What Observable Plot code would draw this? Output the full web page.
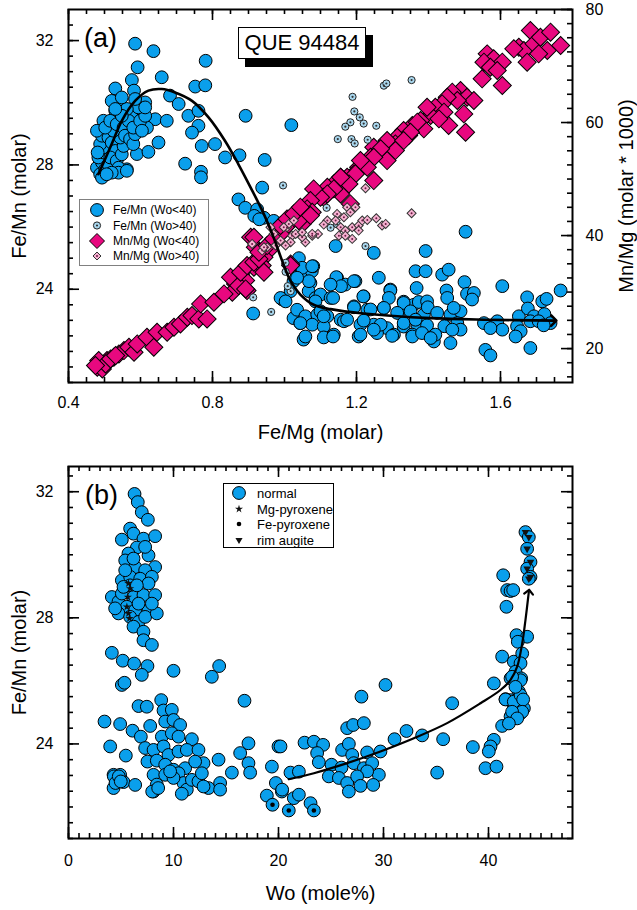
<!DOCTYPE html>
<html><head><meta charset="utf-8">
<script src="https://cdn.jsdelivr.net/npm/d3@7"></script>
<script src="https://cdn.jsdelivr.net/npm/@observablehq/plot@0.6"></script>
<style>
body{margin:0;background:#fff;font-family:"Liberation Sans",Arial,sans-serif;}
#wrap{position:relative;width:637px;height:910px;overflow:hidden;background:#fff;}
#wrap > svg{display:block;}
.ov{position:absolute;box-sizing:border-box;background:#fff;}
</style></head><body><div id="wrap"></div>
<script>
// ---------- Panel (a) data: [Fe/Mg, Fe/Mn] ----------
const feMnLowWo = [
[0.585,31.9],[0.636,31.66],[0.781,31.35],[0.592,31.14],[0.576,30.73],[0.659,30.82],[0.752,30.52],[0.78,30.56],[0.53,30.46],[0.582,30.39],[0.682,30.23],[0.706,29.96],[0.539,30.06],[0.52,30.06],[0.613,30.01],[0.604,29.8],[0.53,29.74],[0.733,29.58],[0.761,29.74],[0.641,29.47],[0.673,29.42],[0.618,29.2],[0.576,29.53],[0.497,29.42],[0.567,29.1],[0.761,29.26],[0.743,29.04],[0.65,28.72],[0.77,28.61],[0.807,28.67],[0.59,28.35],[0.622,28.42],[0.562,27.86],[0.724,28.04],[0.768,27.78],[0.768,27.6],[0.835,28.24],[0.875,28.31],[0.872,26.89],[0.891,26.62],[0.892,29.58],
[0.479,27.91],[0.488,27.7],[0.493,28.08],[0.483,28.24],[0.502,27.86],[0.511,28.02],[0.497,28.4],[0.506,28.56],[0.488,28.67],[0.493,28.94],[0.479,29.1],[0.511,28.88],[0.52,28.72],[0.53,28.45],[0.516,28.24],[0.534,28.13],[0.539,27.91],[0.548,28.34],[0.553,28.61],[0.544,28.88],[0.525,29.1],[0.502,29.2],[0.516,29.42],[0.534,29.31],[0.553,29.2],[0.557,28.94],[0.571,28.83],[0.58,28.67],[0.585,28.99],[0.567,29.42],[0.58,29.2],[0.599,29.42],[0.604,29.1],[0.613,29.58],[0.594,29.85],[0.613,29.85],[0.562,29.8],[0.548,29.58],[0.539,27.75],[0.562,27.81],[0.52,27.75],[0.493,27.59],[0.506,27.7],[0.481,28.4],[0.53,29.8],[0.548,30.17],[0.585,30.12],
[1.019,29.28],[0.945,28.16],[0.938,27.27],[0.924,26.57],[0.943,26.3],[0.97,26.2],[0.916,26.36],[0.93,26.25],[0.935,24.69],[0.913,23.22],[0.994,23.67],[1.053,22.38],[1.025,23.07],[1.044,22.91],[1.025,24.8],[1.025,24.26],[1.044,24.47],[1.072,24.2],[1.067,23.94],[1.086,23.72],[1.076,24.58],[1.08,24.74],
[1.142,25.39],[1.248,25.17],[1.392,25.23],[1.04,25.0],[1.049,24.69],[1.077,24.74],[1.068,24.26],[1.035,24.37],[1.017,23.94],[0.989,23.72],[1.003,23.61],[1.035,23.34],[1.1,23.83],[1.146,24.37],[1.169,24.15],[1.197,24.26],[1.262,24.37],[1.364,24.58],[1.392,24.58],[1.294,23.99],[1.331,23.6],[1.359,23.5],[1.22,23.77],[1.193,23.45],[1.128,23.72],[1.086,23.61],[1.058,23.13],[1.091,23.18],[1.119,23.13],[1.156,23.02],[1.23,23.34],[1.276,23.4],[1.318,23.24],[1.387,23.18],[1.077,22.86],[1.109,22.8],[1.165,22.97],[1.211,22.86],[1.248,22.86],[1.285,22.75],[1.331,22.8],[1.369,22.86],[1.044,22.91],[1.058,22.48],[1.137,22.54],[1.206,22.48],[1.257,22.59],[1.304,22.54],[1.355,22.54],
[1.503,25.85],[1.438,24.47],[1.456,24.63],[1.144,24.39],[1.193,24.26],[1.157,24.1],[1.128,24.15],[1.5,24.23],[1.605,24.1],[1.767,23.96],[1.294,23.96],[1.29,23.72],[1.367,24.04],[1.45,23.96],[1.452,23.72],[1.507,23.85],[1.526,23.88],[1.521,23.67],[1.219,23.77],[1.135,23.72],[1.674,23.74],[1.716,23.61],[1.728,23.69],[1.331,23.56],[1.373,23.59],[1.396,23.61],[1.398,23.42],[1.276,23.4],[1.313,23.24],[1.35,23.29],[1.193,23.42],[1.239,23.35],[1.1,23.29],[1.109,23.13],[1.424,23.24],[1.461,23.18],[1.489,23.29],[1.47,23.4],[1.651,23.13],[1.676,23.38],[1.693,23.13],[1.722,23.2],[1.174,23.02],[1.22,22.99],[1.267,22.86],[1.248,22.7],[1.331,22.91],[1.364,23.02],[1.396,22.84],[1.444,22.81],[1.48,22.91],[1.489,22.7],[1.466,22.7],[1.554,22.91],[1.591,22.97],[1.605,22.7],[1.572,22.75],[1.646,22.81],[1.656,22.65],[1.642,22.48],[1.683,22.97],[1.706,22.97],[1.739,22.91],[1.72,22.84],[1.211,22.54],[1.299,22.5],[1.355,22.48],[1.382,22.59],[1.415,22.32],[1.419,22.54],[1.461,22.27],[1.406,22.43],[1.109,22.45],[1.135,22.48],[1.558,22.05],[1.572,21.87],[1.683,22.11]
];
const feMnHighWo = [
[1.353,30.73],[1.276,30.55],[1.283,30.62],[1.189,30.19],[1.194,29.72],[1.209,29.53],[1.22,29.33],[1.183,29.37],[1.169,29.23],[1.255,29.26],[1.148,28.83],[1.186,28.83],[1.195,28.69],[1.231,28.81],[0.996,27.34],[1.117,26.62],[1.146,26.09],[1.128,25.98],[1.225,25.39],[1.003,24.56],[1.017,23.94],[1.009,24.1],[0.913,23.74],[0.963,23.27],[1.003,24.85]
];
// [Fe/Mg, Mn/Mg (molar*1000)]
const mnMgLowWo = [
[1.683,76.28],[1.651,73.33],[1.665,72.74],[1.693,73.92],[1.711,75.1],[1.739,75.99],[1.767,73.63],[1.73,72.74],[1.706,72.15],[1.674,70.68],[1.637,73.04],
[1.563,72.15],[1.581,71.27],[1.605,70.68],[1.554,70.68],[1.572,69.79],[1.549,67.73],[1.591,69.2],[1.605,66.55],
[1.489,65.66],[1.507,64.48],[1.526,63.89],[1.466,65.37],[1.48,63.89],[1.452,64.48],
[1.438,63.3],[1.419,62.71],[1.443,61.83],[1.406,61.24],[1.456,59.47],[1.498,61.53],[1.503,58.29],[1.429,60.65],[1.378,60.35],[1.355,59.47],[1.387,58.88],[1.331,58.58],[1.345,57.7],[1.313,57.4],[1.308,56.22],[1.285,56.81],[1.267,55.34],[1.248,55.63],[1.281,53.86],[1.239,53.86],[1.22,52.68],[1.206,52.09],[1.248,49.73],[1.193,50.91],[1.174,50.32],[1.156,50.32],[1.137,49.14],[1.119,48.55],[1.156,47.37],[1.109,46.78],
[1.396,62.71],[1.369,60.06],[1.35,58.29],[1.331,56.81],[1.308,55.04],[1.285,53.27],[1.267,55.34],[1.248,53.86],[1.23,52.09],[1.211,53.27],[1.197,50.91],[1.179,49.14],[1.156,50.32],[1.137,48.26],[1.119,47.37],[1.1,46.78],[1.081,48.26],[1.072,46.19],[1.063,44.72],[1.044,43.83],[1.077,44.13],[1.049,42.06],[1.021,42.65],[1.003,41.47],[0.989,40.29],[0.97,38.82],[0.956,37.34],[0.943,36.16],[0.929,35.28],[0.915,34.39],[0.906,39.7],[0.919,37.93],[0.938,34.69],[0.878,33.21],[0.892,32.03],[0.864,31.44],[0.896,30.26],[0.855,29.97],[1.017,34.98],[1.04,42.65],[1.183,45.6],
[0.489,17.29],[0.48,16.7],[0.498,17.0],[0.507,17.88],[0.526,18.47],[0.54,19.06],[0.554,19.65],[0.568,20.24],[0.582,19.35],[0.591,20.83],[0.618,22.01],[0.637,20.24],[0.646,22.89],[0.674,22.89],[0.693,23.78],[0.711,24.37],[0.73,25.55],[0.743,25.84],[0.762,25.25],[0.767,27.91],[0.785,25.25],[0.804,28.2],[0.832,29.68],[0.85,32.63],[0.873,31.15],[0.892,30.56],[0.878,33.51],[0.896,34.69],[0.915,35.28],[0.929,35.87],[0.943,33.51],[0.915,39.71],[0.929,37.05],[0.952,38.23],[0.97,39.41],[0.989,41.77],[1.007,42.95],[1.017,34.69],[1.026,43.84],[1.044,45.02],[1.072,43.54],
[0.484,17.88],[0.494,16.4],[0.503,17.29],[0.475,16.99],[0.517,18.17],[0.531,18.76]
];
const mnMgHighWo = [
[1.353,43.95],[1.225,48.37],[1.174,45.01],[1.183,44.13],[1.197,45.01],[1.146,43.83],[1.119,42.65],[1.109,41.94],[1.142,42.65],[1.165,43.24],[1.156,41.47],[1.169,40.88],[1.188,41.47],[1.206,41.77],[1.216,42.65],[1.23,42.77],[1.255,43.06],[1.271,41.77],[1.281,42.06],[1.151,39.98],[1.169,39.98],[1.188,39.41],[1.206,40.88],[1.093,40.29],[1.077,39.98],[1.058,38.82],[1.049,39.7],[1.021,39.98],[1.017,38.82],[1.003,38.23],[1.007,41.47],[1.012,42.06],[0.989,39.11],[0.975,38.23],[0.952,37.93],[0.938,37.34],[0.91,38.52],[0.961,41.47],[1.031,40.29],[0.943,37.94],[0.97,40.3],[0.998,41.48],[1.049,40.59],[1.077,40.3],[1.026,42.66]
];
const trendA = [
[0.483,27.7],[0.52,28.67],[0.548,29.42],[0.585,30.06],[0.622,30.39],[0.659,30.44],[0.696,30.33],[0.743,30.06],[0.789,29.53],[0.835,28.77],[0.872,28.02],[0.906,27.27],[0.943,26.41],[0.97,25.66],[0.994,24.9],[1.017,24.26],[1.044,23.83],[1.081,23.5],[1.128,23.36],[1.22,23.22],[1.406,23.07],[1.563,23.02],[1.748,22.99]
];
const xTickLabelsA = ["0.4","0.8","1.2","1.6"];
const yTickLabelsA = ["24","28","32"];
const yRightTickLabelsA = ["20","40","60","80"];

// ---------- Panel (b) data: [Wo, Fe/Mn] ----------
const normalB = [
[6.29,31.93],[6.6,31.67],[6.98,31.35],[7.56,31.11],[5.87,30.83],[6.19,30.67],[5.08,30.48],[7.14,30.51],[8.25,30.59],[6.51,30.23],[5.71,30.04],[7.62,29.98],[5.4,29.82],[8.25,29.61],[6.35,29.61],[7.3,29.51],[5.08,29.19],[5.87,29.3],[6.83,29.24],[7.94,29.3],[4.13,28.66],[4.76,28.51],[5.08,28.77],[5.87,29.03],[6.19,28.66],[7.14,28.72],[8.25,28.72],[5.56,28.35],[6.35,28.24],[7.62,28.24],[4.76,28.14],[5.87,28.03],[6.67,27.87],[7.3,28.03],[8.41,28.14],[6.19,27.72],[7.14,27.56],[7.94,28.45],[6.67,28.45],[5.24,28.98],[7.62,29.09],[6.19,29.88],[7.3,30.25],[5.4,29.51],[6.51,29.03],[4.44,28.3],[7.14,27.29],[7.94,27.14],
[4.13,26.89],[5.17,26.64],[6.25,26.55],[7.52,26.47],[6.98,26.19],[5.08,25.87],[5.33,25.94],[10.0,26.32],[13.65,26.13],[14.35,26.47],[16.76,25.37],[8.83,25.39],[6.67,25.2],[7.46,25.18],[3.43,24.71],[4.92,24.63],[6.1,24.42],[6.89,24.23],[7.78,24.57],[9.05,25.06],[9.84,25.08],[9.21,24.71],[10.0,24.76],[10.63,24.6],[8.89,24.23],[9.84,24.34],[10.48,24.23],[11.75,24.15],[3.97,23.92],[5.46,23.63],[7.3,23.87],[8.1,23.81],[9.05,23.92],[9.52,23.65],[10.48,23.76],[11.27,23.81],[12.38,23.81],[12.86,23.39],[7.52,23.44],[8.41,23.47],[9.21,23.34],[10.0,23.18],[11.11,23.23],[12.06,23.44],[14.29,23.5],[16.35,23.71],[17.14,24.02],[17.14,23.39],[17.3,23.09],[15.56,23.09],[4.29,23.02],[4.92,23.02],[5.24,22.79],[4.29,22.6],[6.35,22.7],[8.1,23.02],[8.41,22.71],[8.1,22.49],[9.21,23.02],[10.48,23.07],[10.95,22.76],[11.27,22.55],[10.79,22.42],[11.75,22.86],[12.38,22.81],[12.7,23.07],[13.33,22.6],[14.44,22.76],[14.44,22.55],[12.86,22.65],[10.0,22.92],[9.68,23.13],[4.32,22.97],[4.48,22.76],[4.79,22.97],[4.98,22.81],[7.97,22.49],[8.54,22.6],
[19.37,23.28],[20.0,23.92],[19.75,22.76],[20.32,22.49],[18.89,22.36],
[41.4,29.35],[41.78,28.88],[42.1,28.85],[42.35,28.88],[41.71,28.35],[42.67,27.45],[43.68,27.4],[42.79,27.24],[41.3,26.77],[42.41,26.61],[43.21,26.87],[43.05,26.56],[42.57,26.29],[42.1,26.08],[43.11,26.08],[40.51,25.92],[42.89,25.66],[43.21,25.39],[42.1,25.39],[41.62,25.42],[42.41,25.18],[43.37,25.13],[43.05,24.97],[42.1,24.87],[41.3,24.57],[40.51,24.13],[40.19,23.92],[40.03,23.76],[39.71,23.23],[40.76,23.28],[38.51,23.9],[36.54,25.29],[35.11,23.09],[35.68,24.15],[33.68,24.27],[32.19,24.41],[31.05,24.15],[30.19,25.87],[27.9,25.5],[26.54,24.5],[27.11,24.6],[28.13,24.66],[22.48,24.04],[23.37,24.07],[24.25,23.97],[23.68,23.71],[23.84,23.42],[26.06,23.81],[26.7,24.0],[27.02,23.65],[28.44,23.73],[29.71,23.76],[25.05,23.34],[26.0,23.25],[27.17,23.39],[28.13,23.23],[28.92,23.39],[29.56,23.02],[28.44,23.13],[24.79,22.97],[25.75,22.92],[26.54,22.76],[27.49,22.97],[26.7,22.49],[27.81,22.67],[29.02,22.7],[21.14,23.09],[21.94,23.12],[20.35,22.55],[21.46,22.28],[21.94,22.39],[23.05,22.12],[20.19,23.92],
[41.62,25.41],[42.41,25.34],[43.05,25.55],[43.3,25.41],[43.21,25.02],[42.25,25.02],[42.73,24.81],[41.94,24.65],[43.05,26.02],[42.25,26.13],[42.57,25.81]
];
const mgPyroxeneB = [[5.71,29.09],[5.87,28.93],[5.65,28.66],[5.56,28.35],[5.71,28.14],[5.81,27.98]];
const fePyroxeneB = [[19.43,22.07],[20.98,21.89],[23.37,21.89]];
const rimAugiteB = [[43.52,30.72],[43.84,30.56],[43.68,30.19],[44.0,29.77],[43.68,29.56],[44.0,29.3],[43.84,29.24]];
const trendB = [[20.98,22.88],[23.37,23.07],[26.54,23.39],[29.71,23.76],[32.89,24.18],[36.06,24.66],[39.24,25.29],[41.14,25.71],[42.1,26.03],[42.73,26.45],[43.21,27.19],[43.52,27.93],[43.84,28.82]];
const xTickLabelsB = ["0","10","20","30","40"];
const yTickLabelsB = ["24","28","32"];

// ---------- styling ----------
const BLUE = "#0a9fec", PINK = "#e8087f", LBLUE = "#a9d7ee", LPINK = "#f6b2d1";
const FONT = "'Liberation Sans', Arial, sans-serif";
const mnToLeft = v => 21 + (v - 14) * 12 / 66;   // right-axis (Mn/Mg) scale mapped onto left y scale

function frameTicks(fw, fh, xMaj, xMin, yMaj, yMin, yRMaj, yRMin) {
  const s = {stroke: "black", strokeWidth: 1.6};
  return [
    Plot.tickX(xMin, {x: d => d, insetTop: fh - 5, ...s}),
    Plot.tickX(xMaj, {x: d => d, insetTop: fh - 11, ...s}),
    Plot.tickX(xMin, {x: d => d, insetBottom: fh - 5, ...s}),
    Plot.tickX(xMaj, {x: d => d, insetBottom: fh - 11, ...s}),
    Plot.tickY(yMin, {y: d => d, insetRight: fw - 5, ...s}),
    Plot.tickY(yMaj, {y: d => d, insetRight: fw - 11, ...s}),
    Plot.tickY(yRMin, {y: d => d, insetLeft: fw - 5, ...s}),
    Plot.tickY(yRMaj, {y: d => d, insetLeft: fw - 11, ...s})
  ];
}
const T = {lineAnchor: "middle"};

const wrap = document.getElementById("wrap");

// ---------- Panel (a) ----------
const fwA = 637 - 68 - 65, fhA = 450 - 9 - 68;
const plotA = Plot.plot({
  width: 637, height: 450,
  marginTop: 9, marginRight: 65, marginBottom: 68, marginLeft: 68,
  x: {domain: [0.4, 1.8], axis: null},
  y: {domain: [21, 33], axis: null},
  style: {fontFamily: FONT, fontSize: "16px", background: "white", color: "black", overflow: "visible"},
  marks: [
    Plot.dot(feMnLowWo, {x: d => d[0], y: d => d[1], r: 6.4, fill: BLUE, stroke: "black", strokeWidth: 1}),
    Plot.dot(mnMgLowWo, {x: d => d[0], y: d => mnToLeft(d[1]), symbol: "square", rotate: 45, r: 7.2, fill: PINK, stroke: "black", strokeWidth: 1}),
    Plot.dot(feMnHighWo, {x: d => d[0], y: d => d[1], r: 3.6, fill: LBLUE, stroke: "#222", strokeWidth: 1}),
    Plot.dot(feMnHighWo, {x: d => d[0], y: d => d[1], r: 1.1, fill: "#333"}),
    Plot.dot(mnMgHighWo, {x: d => d[0], y: d => mnToLeft(d[1]), symbol: "square", rotate: 45, r: 3.6, fill: LPINK, stroke: "#333", strokeWidth: 1}),
    Plot.dot(mnMgHighWo, {x: d => d[0], y: d => mnToLeft(d[1]), r: 1, fill: "#6a1a44"}),
    Plot.line(trendA, {x: d => d[0], y: d => d[1], curve: "catmull-rom", stroke: "black", strokeWidth: 2.6, markerEnd: "arrow"}),
    ...frameTicks(fwA, fhA,
      xTickLabelsA.map(Number), d3.range(8, 36).map(i => i / 20),
      yTickLabelsA.map(Number), d3.range(42, 66).map(i => i / 2),
      yRightTickLabelsA.map(v => mnToLeft(+v)), d3.range(6, 33).map(i => mnToLeft(i * 2.5))),
    Plot.frame({stroke: "black", strokeWidth: 2}),
    Plot.text(xTickLabelsA, {...T, x: d => +d, text: d => d, frameAnchor: "bottom", dy: 20, textAnchor: "middle", fontSize: 16}),
    Plot.text(yTickLabelsA, {...T, y: d => +d, text: d => d, frameAnchor: "left", dx: -15, textAnchor: "end", fontSize: 16}),
    Plot.text(yRightTickLabelsA, {...T, y: d => mnToLeft(+d), text: d => d, frameAnchor: "right", dx: 13, textAnchor: "start", fontSize: 16}),
    Plot.text(["Fe/Mg (molar)"], {...T, frameAnchor: "bottom", dy: 50, textAnchor: "middle", fontSize: 20}),
    Plot.text(["Fe/Mn (molar)"], {...T, frameAnchor: "left", dx: -49, rotate: -90, textAnchor: "middle", fontSize: 20}),
    Plot.text(["Mn/Mg (molar * 1000)"], {...T, frameAnchor: "right", dx: 54, rotate: -90, textAnchor: "middle", fontSize: 20}),
    Plot.text(["(a)"], {...T, frameAnchor: "top-left", dx: 32, dy: 29, textAnchor: "middle", fontSize: 27})
  ]
});
wrap.appendChild(plotA);

// ---------- Panel (b) ----------
const fwB = 637 - 68 - 65, fhB = 460 - 16 - 72;
const xyB = {x: d => d[0], y: d => d[1]};
const bigDot = {r: 6.4, fill: BLUE, stroke: "black", strokeWidth: 1};
const plotB = Plot.plot({
  width: 637, height: 460,
  marginTop: 16, marginRight: 65, marginBottom: 72, marginLeft: 68,
  x: {domain: [0, 48], axis: null},
  y: {domain: [21, 32.8], axis: null},
  style: {fontFamily: FONT, fontSize: "16px", background: "white", color: "black", overflow: "visible"},
  marks: [
    Plot.dot(normalB, {...xyB, ...bigDot}),
    Plot.dot(fePyroxeneB, {...xyB, ...bigDot}),
    Plot.dot(rimAugiteB, {...xyB, ...bigDot}),
    Plot.dot(mgPyroxeneB, {...xyB, symbol: "star", r: 2.6, fill: "#111"}),
    Plot.dot(fePyroxeneB, {...xyB, r: 2.3, fill: "black"}),
    Plot.dot(rimAugiteB, {...xyB, symbol: "triangle", rotate: 180, r: 2.8, fill: "#111"}),
    Plot.line(trendB, {...xyB, curve: "catmull-rom", stroke: "black", strokeWidth: 2.2, markerEnd: "arrow"}),
    ...frameTicks(fwB, fhB,
      xTickLabelsB.map(Number), d3.range(0, 48),
      yTickLabelsB.map(Number), d3.range(42, 66).map(i => i / 2),
      yTickLabelsB.map(Number), d3.range(42, 66).map(i => i / 2)),
    Plot.frame({stroke: "black", strokeWidth: 2}),
    Plot.text(xTickLabelsB, {...T, x: d => +d, text: d => d, frameAnchor: "bottom", dy: 22, textAnchor: "middle", fontSize: 16}),
    Plot.text(yTickLabelsB, {...T, y: d => +d, text: d => d, frameAnchor: "left", dx: -15, textAnchor: "end", fontSize: 16}),
    Plot.text(["Wo (mole%)"], {...T, frameAnchor: "bottom", dy: 55, textAnchor: "middle", fontSize: 20}),
    Plot.text(["Fe/Mn (molar)"], {...T, frameAnchor: "left", dx: -49, rotate: -90, textAnchor: "middle", fontSize: 20}),
    Plot.text(["(b)"], {...T, frameAnchor: "top-left", dx: 33, dy: 28.5, textAnchor: "middle", fontSize: 27})
  ]
});
wrap.appendChild(plotB);

// ---------- overlays: sample box and legends ----------
const que = document.createElement("div");
que.className = "ov";
que.style.cssText = "left:238px;top:27px;width:128px;height:32px;border:1px solid #000;box-shadow:7px 8px 0 #000;font-size:22px;line-height:30px;text-align:center;white-space:nowrap;";
que.textContent = "QUE 94484";
wrap.appendChild(que);

const starPath = d3.symbol(d3.symbolStar, 20)();
const triPath = d3.symbol(d3.symbolTriangle, 22)();

const legA = document.createElement("div");
legA.className = "ov";
legA.style.cssText = "left:79px;top:199px;width:130px;height:67px;border:1px solid #808080;";
legA.innerHTML = `<svg width="128" height="65" style="display:block;font-family:${FONT};font-size:12px">
<g transform="translate(-1,-1)">
<circle cx="18" cy="11" r="6.4" fill="${BLUE}" stroke="black"/>
<circle cx="18" cy="26.5" r="3.6" fill="${LBLUE}" stroke="#222"/><circle cx="18" cy="26.5" r="1.1" fill="#333"/>
<path d="M18,34.5L25.5,42L18,49.5L10.5,42Z" fill="${PINK}" stroke="black"/>
<path d="M18,53L22,57L18,61L14,57Z" fill="${LPINK}" stroke="#333"/><circle cx="18" cy="57" r="1" fill="#6a1a44"/>
<text x="34" y="11" dominant-baseline="central">Fe/Mn (Wo&lt;40)</text>
<text x="34" y="26.5" dominant-baseline="central">Fe/Mn (Wo&gt;40)</text>
<text x="34" y="42" dominant-baseline="central">Mn/Mg (Wo&lt;40)</text>
<text x="34" y="57" dominant-baseline="central">Mn/Mg (Wo&gt;40)</text>
</g></svg>`;
wrap.appendChild(legA);

const legB = document.createElement("div");
legB.className = "ov";
legB.style.cssText = "left:223px;top:483px;width:111px;height:65px;border:1px solid #000;";
legB.innerHTML = `<svg width="109" height="63" style="display:block;font-family:${FONT};font-size:13px">
<g transform="translate(-1,-1)">
<circle cx="16" cy="10" r="6.4" fill="${BLUE}" stroke="black"/>
<path d="${starPath}" transform="translate(16,26)" fill="#111"/>
<circle cx="16" cy="41" r="2.3" fill="black"/>
<path d="${triPath}" transform="translate(16,57) rotate(180)" fill="#111"/>
<text x="34" y="10" dominant-baseline="central">normal</text>
<text x="34" y="26" dominant-baseline="central">Mg-pyroxene</text>
<text x="34" y="41" dominant-baseline="central">Fe-pyroxene</text>
<text x="34" y="57" dominant-baseline="central">rim augite</text>
</g></svg>`;
wrap.appendChild(legB);
</script></body></html>
